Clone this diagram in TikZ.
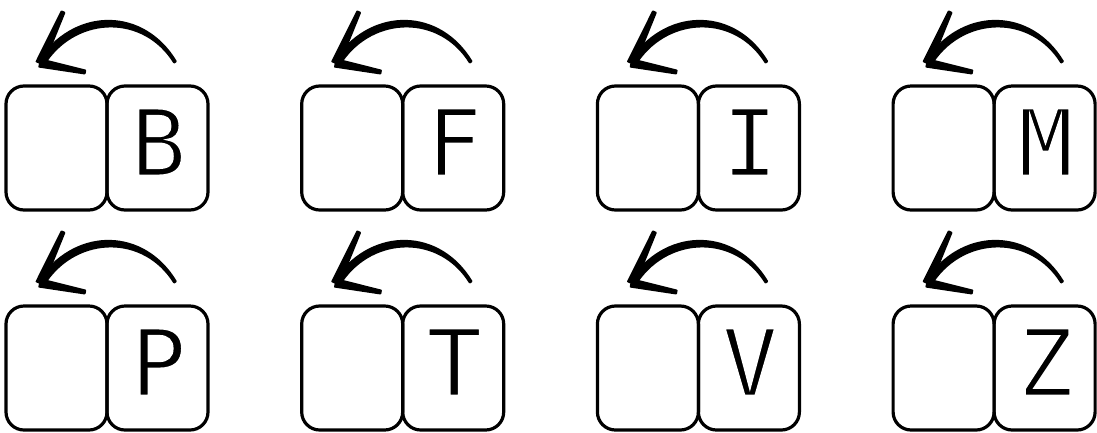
\documentclass[tikz,border=0pt]{standalone}
\usepackage{fontspec}
\newfontfamily\keyfont{DejaVu Sans Mono}
\usetikzlibrary{calc}
\newcommand{\thinglyph}[1]{\special{pdf:literal direct 2 Tr 1 1 1 RG 2 w}#1\special{pdf:literal direct 0 Tr 0 0 0 RG}}
\tikzset{
  keybox/.style={draw, line width=3.2pt, rounded corners=18pt, minimum width=101pt, minimum height=124pt, inner sep=0pt, outer sep=0pt},
  letter/.style={inner sep=0pt, font=\keyfont\fontsize{92}{92}\selectfont},
  inkstroke/.style={fill=black, draw=black, line width=1.8pt, line join=round, line cap=round}
}
\begin{document}
\begin{tikzpicture}[x=1pt,y=-1pt]
\useasboundingbox (0,0) rectangle (1097,432);
\foreach \i/\r/\c/\L in {1/0/0/B,2/0/1/F,3/0/2/I,4/0/3/M,5/1/0/P,6/1/1/T,7/1/2/V,8/1/3/Z}{
  \pgfmathsetmacro\x{6+295.7*\c}
  \pgfmathsetmacro\y{86+220*\r}
  \node[keybox, anchor=north west] (L\i) at (\x,\y) {};
  \node[keybox, anchor=north west] (R\i) at (\x+101,\y) {};
  \node[letter] (T\i) at ($(R\i.north)+(1,56)$) {\thinglyph{\L}};
  % arrow: curve start, curve end, tip, head ends
  \coordinate (S\i) at (\x+169,\y-24);
  \coordinate (C\i) at (\x+38,\y-27);
  \coordinate (E\i) at (\x+34,\y-23);
  \coordinate (H\i) at (\x+57,\y-74);
  \coordinate (K\i) at (\x+79,\y-14);
  % tapered curve (thin at the tail, thick near the head)
  \path[inkstroke]
    ($(S\i)+(0.9,-0.6)$) .. controls (\x+138,\y-77.5) and (\x+72,\y-78.5) .. ($(C\i)+(-2.4,-2.1)$)
    -- ($(C\i)+(2.4,2.1)$) .. controls (\x+72,\y-70.5) and (\x+138,\y-72) .. ($(S\i)+(-0.9,0.6)$) -- cycle;
  % tapered head strokes
  \path[inkstroke] ($(E\i)!3.8pt!90:(H\i)$) -- ($(H\i)!1.6pt!-90:(E\i)$) -- ($(H\i)!1.6pt!90:(E\i)$) -- ($(E\i)!3.8pt!-90:(H\i)$) -- cycle;
  \path[inkstroke] ($(E\i)!3.8pt!90:(K\i)$) -- ($(K\i)!1.6pt!-90:(E\i)$) -- ($(K\i)!1.6pt!90:(E\i)$) -- ($(E\i)!3.8pt!-90:(K\i)$) -- cycle;
}
\end{tikzpicture}
\end{document}
